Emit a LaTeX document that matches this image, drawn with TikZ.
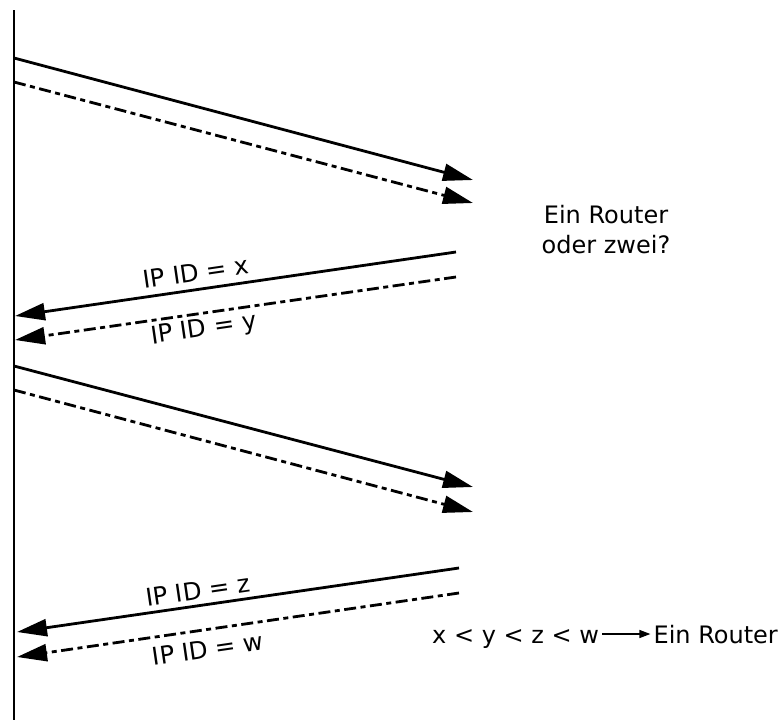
\documentclass[tikz,border=0pt]{standalone}
\usepackage{fontspec}
\setmainfont{DejaVu Sans}
\usetikzlibrary{arrows.meta}
\begin{document}
\begin{tikzpicture}[x=1pt,y=-1pt,
  msg/.style={line width=2.8pt,-{Triangle[length=30pt,width=17pt]}},
  dashdot/.style={msg,dash pattern=on 12pt off 4.5pt on 5pt off 4.5pt},
  lbl/.style={font=\fontsize{24.5}{28}\selectfont,inner sep=0pt,rotate=8.3},
  txt/.style={font=\fontsize{24}{30}\selectfont,inner sep=0pt}]
\useasboundingbox (0,0) rectangle (784,720);
% time line
\coordinate (top) at (14,10);
\coordinate (bot) at (14,720);
\draw[line width=2.6pt] (top) -- (bot);
% endpoints
\coordinate (a1s) at (14,58);  \coordinate (a1e) at (473,180);
\coordinate (b1s) at (14,82);  \coordinate (b1e) at (473,203);
\coordinate (r1s) at (456,252); \coordinate (r1e) at (15,316);
\coordinate (q1s) at (456,277); \coordinate (q1e) at (15,340);
\coordinate (a2s) at (14,366); \coordinate (a2e) at (473,487);
\coordinate (b2s) at (14,390); \coordinate (b2e) at (473,512);
\coordinate (r2s) at (459,568); \coordinate (r2e) at (17,632);
\coordinate (q2s) at (459,593); \coordinate (q2e) at (17,657);
% messages
\draw[msg] (a1s) -- (a1e);
\draw[dashdot] (b1s) -- (b1e);
\draw[msg] (r1s) -- (r1e);
\draw[dashdot] (q1s) -- (q1e);
\draw[msg] (a2s) -- (a2e);
\draw[dashdot] (b2s) -- (b2e);
\draw[msg] (r2s) -- (r2e);
\draw[dashdot] (q2s) -- (q2e);
% labels
\node[lbl] (lx) at (196,272) {IP ID = x};
\node[lbl] (ly) at (204,330) {IP ID = y};
\node[lbl] (lz) at (198,590) {IP ID = z};
\node[lbl] (lw) at (208,649) {IP ID = w};
% question
\node[txt,align=center] (q) at (606,230) {Ein Router\\oder zwei?};
% conclusion
\node[txt,anchor=base west] (cond) at (432,643) {x < y < z < w};
\node[txt,anchor=base east] (res) at (778,643) {Ein Router};
\draw[line width=1.3pt,-{Triangle[length=11pt,width=8pt]}]
  ([xshift=3pt,yshift=9pt]cond.base east) -- ([xshift=-3pt,yshift=9pt]res.base west);
\end{tikzpicture}
\end{document}
